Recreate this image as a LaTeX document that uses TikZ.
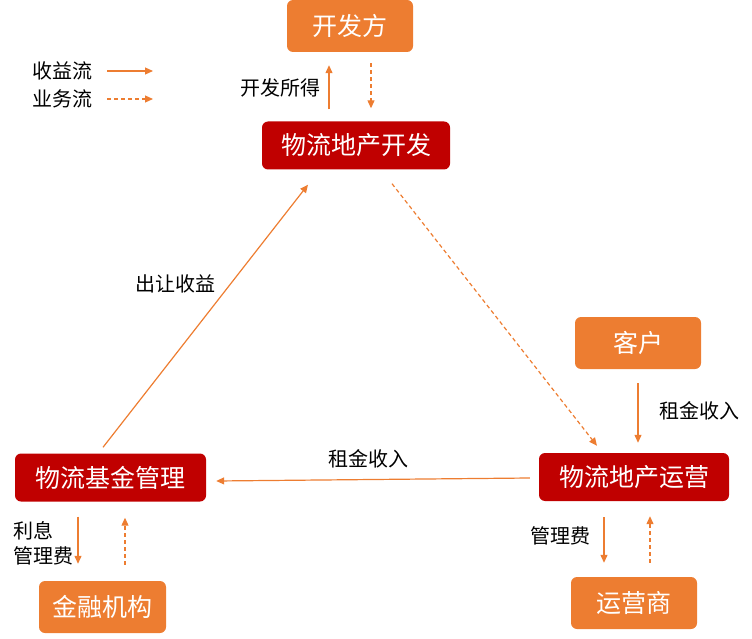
\documentclass[tikz,border=0pt]{standalone}
\usepackage{fontspec}
\setmainfont{Noto Sans CJK SC}
\usetikzlibrary{arrows.meta,calc}
\definecolor{org}{HTML}{ED7D31}
\definecolor{dred}{HTML}{C00000}
\tikzset{
  obox/.style={fill=org, draw=none, rounded corners=6pt, text=white, font=\fontsize{25}{25}\selectfont, minimum width=126pt, minimum height=52pt, inner sep=0pt},
  rbox/.style={fill=dred, draw=none, rounded corners=6pt, text=white, font=\fontsize{25}{25}\selectfont, minimum height=48pt, inner sep=0pt},
  lbl/.style={font=\fontsize{20}{24}\selectfont, text=black, inner sep=0pt},
  rev/.style={draw=org, line width=1.2pt, -{Triangle[length=8pt,width=7pt]}},
  biz/.style={draw=org, line width=1.2pt, dash pattern=on 4pt off 3pt, -{Triangle[length=8pt,width=7pt]}}
}
\begin{document}
\begin{tikzpicture}[x=1pt,y=-1pt]
\useasboundingbox (0,0) rectangle (752,639);
% nodes
\node[obox] (dev) at (350,26) {开发方};
\node[rbox, minimum width=188pt] (pdev) at (356,145.5) {物流地产开发};
\node[obox] (cust) at (638,343) {客户};
\node[rbox, minimum width=190pt] (ops) at (634,477) {物流地产运营};
\node[rbox, minimum width=191pt] (fund) at (110.5,477.5) {物流基金管理};
\node[obox, minimum width=127pt] (bank) at (102.5,607) {金融机构};
\node[obox] (oper) at (634,603) {运营商};
% legend
\node[lbl, anchor=west] (lg1) at (32,71) {收益流};
\node[lbl, anchor=west] (lg2) at (32,99) {业务流};
\coordinate (l1a) at (107,71); \coordinate (l1b) at (153,71);
\coordinate (l2a) at (107,99); \coordinate (l2b) at (153,99);
\draw[rev] (l1a) -- (l1b);
\draw[biz] (l2a) -- (l2b);
% top
\draw[rev] ($(pdev.north)+(-27,-12)$) -- ($(dev.south)+(-21,13)$);
\node[lbl, anchor=east] (t1) at (321,88) {开发所得};
\draw[biz] ($(dev.south)+(21,11)$) -- ($(pdev.north)+(15,-13)$);
% diagonals
\draw[rev] ($(fund.north)+(-7.5,-6)$) -- ($(pdev.south)+(-48,15)$);
\node[lbl] (t2) at (175.5,284) {出让收益};
\draw[biz] ($(pdev.south)+(36,14)$) -- ($(ops.north)+(-37,-7)$);
% horizontal
\draw[rev] ($(ops.west)+(-9,1)$) -- ($(fund.east)+(10,3.5)$);
\node[lbl] (t3) at (368,459) {租金收入};
% customer
\draw[rev] ($(cust.south)+(0,14)$) -- ($(ops.north)+(4,-10)$);
\node[lbl] (t4) at (699.5,411) {租金收入};
% operator
\draw[rev] ($(ops.south)+(-30,16)$) -- ($(oper.north)+(-30,-14)$);
\node[lbl] (t5) at (560.5,536) {管理费};
\draw[biz] ($(oper.north)+(16,-14)$) -- ($(ops.south)+(16,15)$);
% bank
\draw[rev] ($(fund.south)+(-32.5,15)$) -- ($(bank.north)+(-24.5,-17)$);
\node[lbl, anchor=west, align=left, font=\fontsize{20}{25}\selectfont] (t6) at (13,543.5) {利息\\管理费};
\draw[biz] ($(bank.north)+(22.5,-16)$) -- ($(fund.south)+(14.5,16)$);
\end{tikzpicture}
\end{document}
